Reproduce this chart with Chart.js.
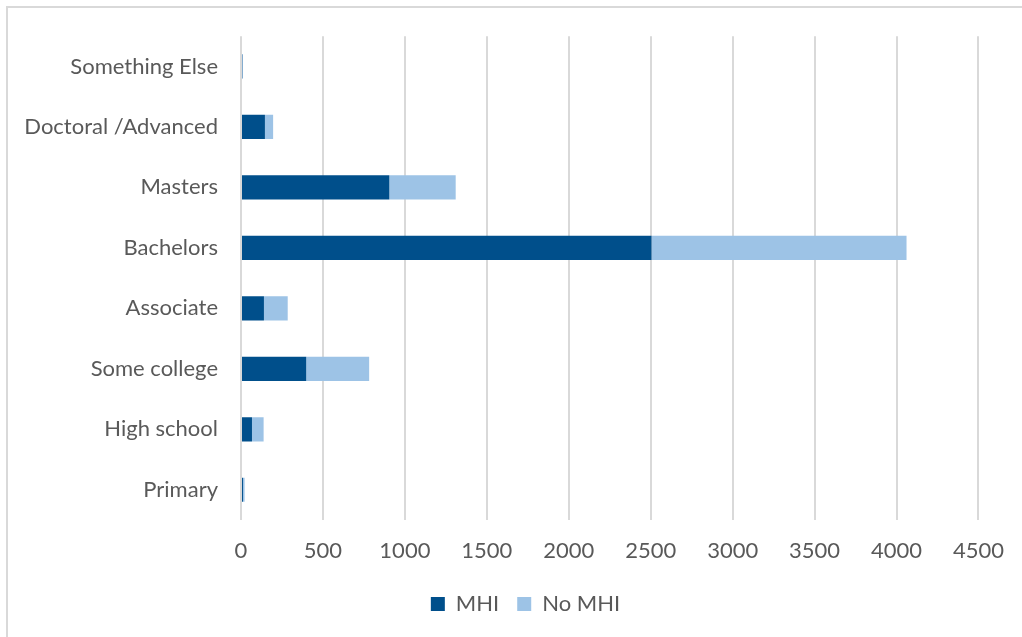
<!DOCTYPE html>
<html>
<head>
<meta charset="utf-8">
<script src="https://cdn.jsdelivr.net/npm/chart.js@4.4.1/dist/chart.umd.min.js"></script>
<style>
  html, body { margin: 0; padding: 0; background: #fff; overflow: hidden; }
  #frame {
    position: absolute; left: 6px; top: 6px; width: 1040px; height: 660px;
    border-left: 2px solid #d9d9d9; border-top: 2px solid #d9d9d9;
  }
  #wrap { position: absolute; left: 0; top: 0; width: 1022px; height: 637px; }
</style>
</head>
<body>
<div id="frame"></div>
<div id="wrap"><canvas id="edu"></canvas></div>
<script>
// education levels, top to bottom
var levels = ['Something Else', 'Doctoral /Advanced', 'Masters', 'Bachelors',
              'Associate', 'Some college', 'High school', 'Primary'];
var mhi   = [8, 146, 905, 2505, 140, 398, 67, 12];
var noMhi = [4, 50, 405, 1556, 145, 384, 71, 10];
var xTicks = [0, 500, 1000, 1500, 2000, 2500, 3000, 3500, 4000, 4500];

var textColor = '#595959';
var font = { family: 'Lato', size: 22 };

Chart.defaults.color = textColor;
Chart.defaults.font.family = font.family;

// category labels hang left of the padded area, so widen the label clip
// and move the legend right to sit under the plot
var layoutFix = {
    id: 'layoutFix',
    afterLayout: function(chart) {
        chart.scales.y.left = 0;
        chart.legend.left += 29;
        chart.legend.right += 29;
    }
};

new Chart(document.getElementById('edu'), {
    type: 'bar',
    data: {
        labels: levels,
        datasets: [
            { label: 'MHI', data: mhi, backgroundColor: '#004f8b' },
            { label: 'No MHI', data: noMhi, backgroundColor: '#9dc3e6' }
        ]
    },
    options: {
        indexAxis: 'y',
        responsive: true,
        maintainAspectRatio: false,
        animation: false,
        layout: { padding: { top: 36, right: 29, left: 0, bottom: 12 } },
        datasets: { bar: { categoryPercentage: 1, barPercentage: 0.4 } },
        scales: {
            x: {
                stacked: true,
                min: 0,
                max: 4500,
                afterBuildTicks: function(scale) {
                    scale.ticks = xTicks.map(function(v) { return { value: v }; });
                },
                afterFit: function(scale) { scale.height = 55; },
                grid: { color: '#d9d9d9', lineWidth: 2, drawTicks: false },
                border: { display: false },
                ticks: {
                    font: font,
                    color: textColor,
                    padding: 18,
                    callback: function(v) { return String(v); }
                }
            },
            y: {
                stacked: true,
                grid: { display: false, drawTicks: false },
                border: { display: false },
                ticks: { font: font, color: textColor, padding: 23 },
                afterFit: function(scale) { scale.width = 241; }
            }
        },
        plugins: {
            legend: {
                position: 'bottom',
                labels: {
                    boxWidth: 14,
                    boxHeight: 14,
                    padding: 18,
                    font: font,
                    color: textColor
                }
            },
            tooltip: { enabled: false }
        }
    },
    plugins: [layoutFix]
});
</script>
</body>
</html>
